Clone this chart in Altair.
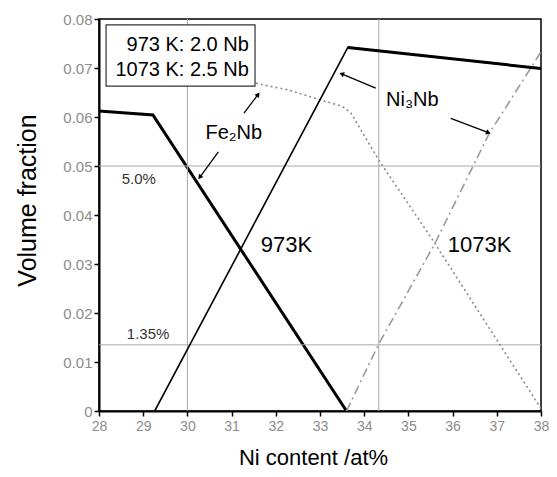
import math
import altair as alt
import pandas as pd

# ---- data ----
fe2nb_973_x = [28.0, 29.22, 33.6]
fe2nb_973_y = [0.0612, 0.0604, 0.0]

ni3nb_973_x = [29.26, 33.63, 38.0]
ni3nb_973_y = [0.0, 0.0742, 0.0699]

fe2nb_1073_x = [31.55, 31.85, 32.3, 33.0, 33.5, 33.7, 34.33, 35.6, 37.05, 38.0]
fe2nb_1073_y = [0.0669, 0.0663, 0.0655, 0.0635, 0.0622, 0.0608, 0.0512, 0.0342, 0.0138, 0.0005]

ni3nb_1073_x = [33.6, 34.33, 35.6, 36.82, 38.0]
ni3nb_1073_y = [0.0, 0.0137, 0.0342, 0.0565, 0.0733]

grid_x = [30.0, 34.33]
grid_y = [0.05, 0.0135]

x_ticks = [28, 29, 30, 31, 32, 33, 34, 35, 36, 37, 38]
y_ticks = [0, 0.01, 0.02, 0.03, 0.04, 0.05, 0.06, 0.07, 0.08]

# annotations (data units)
label_text = ["Fe₂Nb", "Ni₃Nb", "973K", "1073K"]
label_x = [31.05, 35.09, 32.24, 36.61]
label_y = [0.0567, 0.0635, 0.0339, 0.0339]
label_size = [20, 20, 22, 22]

pct_text = ["5.0%", "1.35%"]
pct_x = [28.9, 29.11]
pct_y = [0.0473, 0.0157]

arrow_x1 = [31.28, 30.70, 34.26, 35.96]
arrow_y1 = [0.0608, 0.0529, 0.0659, 0.0597]
arrow_x2 = [31.60, 30.28, 33.49, 36.81]
arrow_y2 = [0.0646, 0.0477, 0.0688, 0.0568]

box_x = [28.16, 31.53]
box_y = [0.0663, 0.0788]
box_lines = ["973 K: 2.0 Nb", "1073 K: 2.5 Nb"]
box_text_x = [31.39, 31.39]
box_text_y = [0.0735, 0.0684]

FONT = "Liberation Sans"
W, H = 442, 392
XD, YD = [28, 38], [0, 0.08]
PXX = W / (XD[1] - XD[0])
PXY = H / (YD[1] - YD[0])

xs = alt.Scale(domain=XD, nice=False, zero=False)
ys = alt.Scale(domain=YD, nice=False)


def line_df(xv, yv):
    return pd.DataFrame({"x": xv, "y": yv, "o": list(range(len(xv)))})


xenc = alt.X("x:Q", scale=xs,
             axis=alt.Axis(values=x_ticks, format="d", title="Ni content /at%",
                           titleX=214, titleY=53, titleBaseline="alphabetic",
                           titleFontSize=22, titleFontWeight="normal", labelPadding=3,
                           labelFontSize=14, labelFont=FONT, labelColor="#8c8c8c",
                           labelFlush=False, labelOverlap=False))
yenc = alt.Y("y:Q", scale=ys,
             axis=alt.Axis(values=y_ticks, format="~g", title="Volume fraction",
                           titleX=-72, titleY=181, titleBaseline="middle",
                           titleAngle=270, titleFontSize=25, titleFontWeight="normal",
                           labelPadding=2, labelFontSize=15, labelFont=FONT,
                           labelColor="#8c8c8c", labelFlush=False, labelOverlap=False))

# grid lines
gx = alt.Chart(pd.DataFrame({"x": grid_x})).mark_rule(color="#a8a8a8", strokeWidth=1).encode(
    x=alt.X("x:Q", scale=xs))
gy = alt.Chart(pd.DataFrame({"y": grid_y})).mark_rule(color="#a8a8a8", strokeWidth=1).encode(
    y=alt.Y("y:Q", scale=ys))

# series
fe973 = alt.Chart(line_df(fe2nb_973_x, fe2nb_973_y)).mark_line(
    color="black", strokeWidth=3, clip=True).encode(x=xenc, y=yenc, order="o:Q")
ni973 = alt.Chart(line_df(ni3nb_973_x, ni3nb_973_y)).mark_line(
    color="black", strokeWidth=1.6, clip=True).encode(x="x:Q", y="y:Q", order="o:Q")
ni973top = alt.Chart(line_df(ni3nb_973_x[1:], ni3nb_973_y[1:])).mark_line(
    color="black", strokeWidth=3, clip=True).encode(x="x:Q", y="y:Q", order="o:Q")
fe1073 = alt.Chart(line_df(fe2nb_1073_x, fe2nb_1073_y)).mark_line(
    color="#8a8a8a", strokeWidth=1.6, strokeDash=[2, 3], clip=True).encode(
    x="x:Q", y="y:Q", order="o:Q")
ni1073 = alt.Chart(line_df(ni3nb_1073_x, ni3nb_1073_y)).mark_line(
    color="#9a9a9a", strokeWidth=1.6, strokeDash=[9, 4, 2, 4], clip=True).encode(
    x="x:Q", y="y:Q", order="o:Q")

# arrows
angles = []
for a, b, c, d in zip(arrow_x1, arrow_y1, arrow_x2, arrow_y2):
    dx = (c - a) * PXX
    dy = -(d - b) * PXY
    angles.append(math.degrees(math.atan2(dx, -dy)) % 360)
arr = pd.DataFrame({"x": arrow_x1, "y": arrow_y1, "x2": arrow_x2, "y2": arrow_y2, "ang": angles})
shafts = alt.Chart(arr).mark_rule(color="black", strokeWidth=1.3).encode(
    x="x:Q", y="y:Q", x2="x2:Q", y2="y2:Q")
heads = alt.Chart(arr).mark_point(shape="triangle-up", filled=True, color="black",
                                  size=30, opacity=1).encode(
    x="x2:Q", y="y2:Q", angle=alt.Angle("ang:Q", scale=None))

# text labels
lab = alt.Chart(pd.DataFrame({"t": label_text, "x": label_x, "y": label_y, "s": label_size})).mark_text(
    font=FONT, color="black", align="center", baseline="middle").encode(
    x="x:Q", y="y:Q", text="t:N", size=alt.Size("s:Q", scale=None))
pct = alt.Chart(pd.DataFrame({"t": pct_text, "x": pct_x, "y": pct_y})).mark_text(
    font=FONT, color="#333333", fontSize=15, align="center", baseline="middle").encode(
    x="x:Q", y="y:Q", text="t:N")

# legend-like box
box = alt.Chart(pd.DataFrame({"x": [box_x[0]], "x2": [box_x[1]], "y": [box_y[0]], "y2": [box_y[1]]})).mark_rect(
    fill="white", stroke="#333333", strokeWidth=1.2).encode(x="x:Q", x2="x2:Q", y="y:Q", y2="y2:Q")
boxtxt = alt.Chart(pd.DataFrame({"t": box_lines, "x": box_text_x, "y": box_text_y})).mark_text(
    font=FONT, color="black", fontSize=20, align="right", baseline="alphabetic").encode(
    x="x:Q", y="y:Q", text="t:N")

chart = alt.layer(
    fe973, gx, gy, fe1073, ni1073, ni973, ni973top, shafts, heads, lab, pct, box, boxtxt
).properties(
    width=W, height=H,
    autosize=alt.AutoSizeParams(type="none"),
    padding={"left": 91, "top": 11, "right": 8, "bottom": 58},
).configure(
    background="white"
).configure_view(
    stroke="black", strokeWidth=1.5
).configure_axis(
    domainColor="black", domainWidth=2, tickColor="black", tickWidth=1.5, tickSize=5,
    labelColor="#8c8c8c", labelFont=FONT, labelFontSize=15, titleFont=FONT,
    titleColor="black", titleFontWeight="normal", grid=False
)

chart.save("out.html", embed_options={"renderer": "svg", "actions": False})
